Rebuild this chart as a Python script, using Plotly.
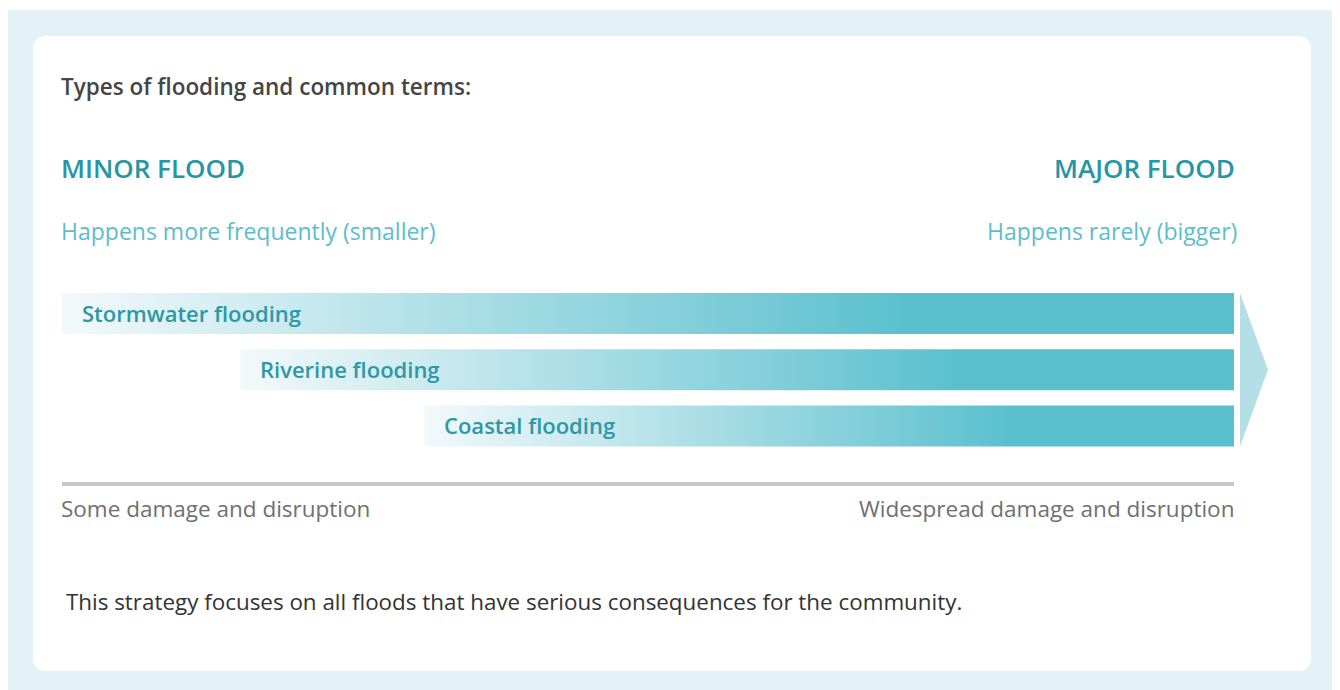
import plotly.graph_objects as go

# ---------------- data ----------------
flood_types = ["Stormwater flooding", "Riverine flooding", "Coastal flooding"]
range_start = [0.0, 15.2, 30.9]      # position along minor -> major scale (0-100)
range_end = [100.0, 100.0, 100.0]
scale_left_title = "MINOR FLOOD"
scale_right_title = "MAJOR FLOOD"
scale_left_sub = "Happens more frequently (smaller)"
scale_right_sub = "Happens rarely (bigger)"
impact_left = "Some damage and disruption"
impact_right = "Widespread damage and disruption"
heading = "Types of flooding and common terms:"
footnote = "This strategy focuses on all floods that have serious consequences for the community."

# ---------------- layout geometry ----------------
# page body has an 8px margin; the figure starts at (8, 8) in the window
OFF = 8
W, H = 1340 - OFF, 690 - OFF
X0_PX, X100_PX = 62 - OFF, 1234 - OFF     # pixel positions of scale 0 and 100
px_per_unit = (X100_PX - X0_PX) / 100.0
x_range = [-X0_PX / px_per_unit, (W - X0_PX) / px_per_unit]

ROW0_PX, ROW_STEP_PX = 313.5 - OFF, 56.3
y_range = [(H - ROW0_PX) / ROW_STEP_PX, -ROW0_PX / ROW_STEP_PX]
HALF_H = 20.5 / ROW_STEP_PX

def px(xp):
    return (xp - OFF) / W

def py(yp):
    return 1 - (yp - OFF) / H

LIGHT = "#f3f9fb"
FULL = "#5bc0ce"
TEAL_DARK = "#2596a4"
TEAL_LIGHT = "#5cbdcc"
FONT = "Open Sans"

fig = go.Figure()

# gradient bars
for i, (name, s, e) in enumerate(zip(flood_types, range_start, range_end)):
    fig.add_trace(go.Scatter(
        x=[s, e, e, s, s],
        y=[i - HALF_H, i - HALF_H, i + HALF_H, i + HALF_H, i - HALF_H],
        mode="lines", line=dict(width=0), fill="toself",
        fillgradient=dict(type="horizontal",
                          colorscale=[[0, LIGHT], [0.72, FULL], [1, FULL]],
                          start=s, stop=e),
        hoverinfo="skip", showlegend=False,
    ))
    fig.add_annotation(x=s, y=i, xref="x", yref="y", text=name, showarrow=False,
                       xanchor="left", yanchor="middle", xshift=18, yshift=1,
                       font=dict(family=FONT, size=22, color="#2d98a6", weight=600))

# arrow head
ax0 = max(range_end) + 6 / px_per_unit
ax1 = max(range_end) + 34 / px_per_unit
ytop = 0 - HALF_H
ybot = len(flood_types) - 1 + HALF_H
fig.add_trace(go.Scatter(
    x=[ax0, ax1, ax0, ax0], y=[ytop, (ytop + ybot) / 2, ybot, ytop],
    mode="lines", line=dict(width=0), fill="toself", fillcolor="#b5dfe7",
    hoverinfo="skip", showlegend=False))

shapes = []
# outer light-blue panel
shapes.append(dict(type="rect", xref="paper", yref="paper", layer="below",
                   x0=px(7), x1=px(1333), y0=py(700), y1=py(10),
                   fillcolor="#e3f2f7", line=dict(width=0)))
# white card with rounded corners
L, R, T, B = 33, 1311, 36, 671
r = 14
rx, ry = r / W, r / H
l, rr, t, b = px(L), px(R), py(T), py(B)
path = (f"M {l+rx},{t} L {rr-rx},{t} Q {rr},{t} {rr},{t-ry} "
        f"L {rr},{b+ry} Q {rr},{b} {rr-rx},{b} L {l+rx},{b} Q {l},{b} {l},{b+ry} "
        f"L {l},{t-ry} Q {l},{t} {l+rx},{t} Z")
shapes.append(dict(type="path", xref="paper", yref="paper", layer="below", path=path,
                   fillcolor="white", line=dict(width=0)))
# grey impact line
shapes.append(dict(type="line", xref="x", yref="paper", x0=0, x1=100,
                   y0=py(484), y1=py(484), line=dict(color="#c6c6c6", width=4)))
fig.update_layout(shapes=shapes)

def note(text, xp, yp, anchor, size, color, weight=400):
    fig.add_annotation(x=px(xp), y=py(yp), xref="paper", yref="paper", text=text,
                       showarrow=False, xanchor=anchor, yanchor="middle",
                       font=dict(family=FONT, size=size, color=color, weight=weight))

note(heading, 59, 86, "left", 22.5, "#454545", 600)
note(scale_left_title, 59, 168, "left", 26, TEAL_DARK, 600)
note(scale_right_title, 1237, 168, "right", 26, TEAL_DARK, 600)
note(scale_left_sub, 59, 231, "left", 23, TEAL_LIGHT, 400)
note(scale_right_sub, 1239, 231, "right", 23, TEAL_LIGHT, 400)
note(impact_left, 59, 508, "left", 22.5, "#707070", 400)
note(impact_right, 1236, 508, "right", 22.5, "#707070", 400)
note(footnote, 64, 601, "left", 22.4, "#333333", 400)

fig.update_layout(
    width=W, height=H, margin=dict(l=0, r=0, t=0, b=0),
    paper_bgcolor="white", plot_bgcolor="rgba(0,0,0,0)",
    xaxis=dict(range=x_range, visible=False, fixedrange=True),
    yaxis=dict(range=y_range, visible=False, fixedrange=True),
    showlegend=False,
)

fig.write_html("out.html", config={"displayModeBar": False})
